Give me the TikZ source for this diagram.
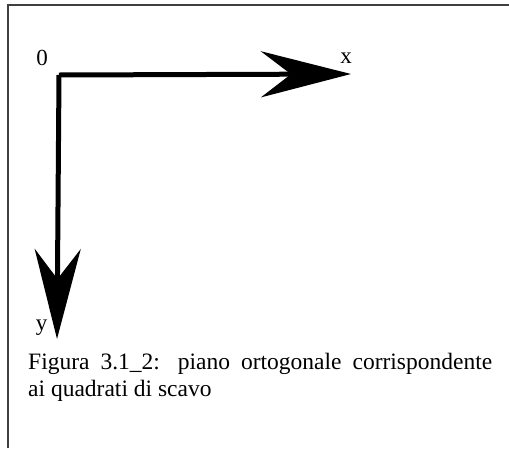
\documentclass[tikz,border=0pt]{standalone}
\usepackage{fontspec}
\setmainfont{Liberation Serif}
\usepackage{tikz}
\usetikzlibrary{arrows.meta}

\begin{document}
\begin{tikzpicture}[x=1pt, y=-1pt,
  asse/.style={line width=5pt, black, -{Stealth[length=90pt, width=46pt, inset=30pt]}},
  etichetta/.style={inner sep=0pt, anchor=base, font=\fontsize{23}{27}\selectfont},
  cornice/.style={draw=black!75, line width=1.5pt}]
\useasboundingbox (0,0) rectangle (509,448);
\draw[cornice] (8,448) -- (8,5) -- (509,5);

\coordinate (O) at (59,75);
\coordinate (X) at (351,74);
\coordinate (Y) at (57,339);
\draw[asse] (O) -- (X);
\draw[asse] (O) -- (Y);

\node[etichetta] (lab0) at (42,65) {0};
\node[etichetta] (labx) at (346,63) {x};
\node[etichetta] (laby) at (41.5,330) {y};

\node[anchor=north west, inner sep=0pt, text width=464pt, align=justify,
      font=\fontsize{23.5}{27.5}\selectfont] (didascalia) at (28,352.5) {
Figura 3.1\_2: piano ortogonale corrispondente\linebreak ai quadrati di scavo
};
\end{tikzpicture}
\end{document}
